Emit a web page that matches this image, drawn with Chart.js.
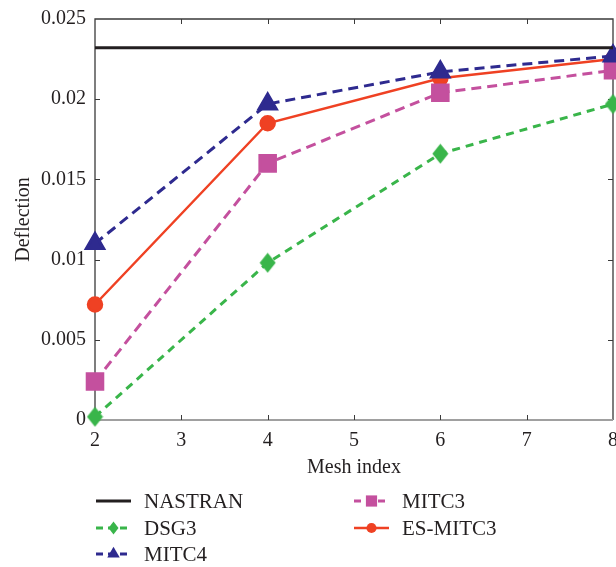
<!DOCTYPE html>
<html>
<head>
<meta charset="utf-8">
<script src="https://cdn.jsdelivr.net/npm/chart.js@4/dist/chart.umd.min.js"></script>
<style>
  html, body { margin: 0; padding: 0; background: #fff; }
  #wrap { width: 616px; height: 567px; position: relative; }
</style>
</head>
<body>
<div id="wrap"><canvas id="deflectionChart"></canvas></div>
<script>
// Data
const meshIndex = [2, 4, 6, 8];
const nastran = [0.0232, 0.0232, 0.0232, 0.0232];
const dsg3 = [0.0002, 0.0098, 0.0166, 0.0197];
const mitc4 = [0.0110, 0.0197, 0.0217, 0.0227];
const mitc3 = [0.0024, 0.0160, 0.0204, 0.0218];
const esMitc3 = [0.0072, 0.0185, 0.0213, 0.0225];

const xTicks = [2, 3, 4, 5, 6, 7, 8];
const yTicks = [0, 0.005, 0.01, 0.015, 0.02, 0.025];

const FONT = "'Liberation Serif', 'DejaVu Serif', serif";
Chart.defaults.font.family = FONT;
Chart.defaults.font.size = 20;
Chart.defaults.color = "#231f20";

// Tall diamond marker (taller than wide, like the original)
function makeDiamond(color, w, h) {
  const c = document.createElement("canvas");
  c.width = w + 1;
  c.height = h + 1;
  const g = c.getContext("2d");
  g.fillStyle = color;
  g.beginPath();
  g.moveTo((w + 1) / 2, 0.5);
  g.lineTo(w + 0.5, (h + 1) / 2);
  g.lineTo((w + 1) / 2, h + 0.5);
  g.lineTo(0.5, (h + 1) / 2);
  g.closePath();
  g.fill();
  return c;
}

function toPoints(values) {
  return values.map((v, i) => ({ x: meshIndex[i], y: v }));
}

const datasets = [
  {
    label: "NASTRAN",
    data: toPoints(nastran),
    borderColor: "#231f20",
    backgroundColor: "#231f20",
    borderWidth: 3,
    pointRadius: 0,
    legendCol: 0, legendRow: 0
  },
  {
    label: "DSG3",
    data: toPoints(dsg3),
    borderColor: "#39b54a",
    backgroundColor: "#39b54a",
    borderWidth: 3,
    borderDash: [8, 6],
    pointStyle: makeDiamond("#39b54a", 16, 20),
    legendStyle: makeDiamond("#39b54a", 10, 13),
    pointRadius: 9,
    legendCol: 0, legendRow: 1
  },
  {
    label: "MITC4",
    data: toPoints(mitc4),
    borderColor: "#2e2a8f",
    backgroundColor: "#2e2a8f",
    borderWidth: 3,
    borderDash: [10, 6],
    pointStyle: "triangle",
    pointRadius: 10,
    legendCol: 0, legendRow: 2
  },
  {
    label: "MITC3",
    data: toPoints(mitc3),
    borderColor: "#c4509e",
    backgroundColor: "#c4509e",
    borderWidth: 3,
    borderDash: [10, 6],
    pointStyle: "rect",
    pointRadius: 11,
    legendCol: 1, legendRow: 0
  },
  {
    label: "ES-MITC3",
    data: toPoints(esMitc3),
    borderColor: "#ef4123",
    backgroundColor: "#ef4123",
    borderWidth: 2.5,
    pointStyle: "circle",
    pointRadius: 7,
    legendCol: 1, legendRow: 1
  }
];

// Box round the plot, with inward ticks on all four sides
const boxPlugin = {
  id: "box",
  beforeDatasetsDraw(chart) {
    const { ctx, chartArea: a, scales } = chart;
    ctx.save();
    ctx.lineWidth = 1.3;
    ctx.strokeStyle = "#3a3a3a";
    ctx.beginPath();
    ctx.moveTo(a.left, a.bottom);
    ctx.lineTo(a.left, a.top);
    ctx.lineTo(a.right, a.top);
    ctx.lineTo(a.right, a.bottom);
    ctx.stroke();

    ctx.strokeStyle = "#a0a0a0";
    ctx.lineWidth = 2;
    ctx.beginPath();
    ctx.moveTo(a.left, a.bottom);
    ctx.lineTo(a.right, a.bottom);
    ctx.stroke();

    ctx.strokeStyle = "#3a3a3a";
    ctx.lineWidth = 1;
    const tl = 5;
    ctx.beginPath();
    xTicks.slice(1, -1).forEach(v => {
      const x = Math.round(scales.x.getPixelForValue(v)) + 0.5;
      ctx.moveTo(x, a.bottom);
      ctx.lineTo(x, a.bottom - tl);
      ctx.moveTo(x, a.top);
      ctx.lineTo(x, a.top + tl);
    });
    yTicks.slice(1, -1).forEach(v => {
      const y = Math.round(scales.y.getPixelForValue(v)) + 0.5;
      ctx.moveTo(a.left, y);
      ctx.lineTo(a.left + tl, y);
      ctx.moveTo(a.right, y);
      ctx.lineTo(a.right - tl, y);
    });
    ctx.stroke();
    ctx.restore();
  }
};

// Two-column legend under the plot
const legendPlugin = {
  id: "colLegend",
  afterDraw(chart) {
    const ctx = chart.ctx;
    const colX = [96, 354];
    const rowY = [501, 528, 554];
    const sampleW = 35;
    ctx.save();
    chart.data.datasets.forEach(ds => {
      const x0 = colX[ds.legendCol];
      const y = rowY[ds.legendRow];
      ctx.strokeStyle = ds.borderColor;
      ctx.lineWidth = ds.borderWidth;
      ctx.setLineDash(ds.borderDash ? [7, 5] : []);
      ctx.beginPath();
      ctx.moveTo(x0, y);
      ctx.lineTo(x0 + sampleW, y);
      ctx.stroke();
      ctx.setLineDash([]);
      if (ds.pointRadius > 0) {
        ctx.fillStyle = ds.backgroundColor;
        Chart.helpers.drawPoint(ctx, {
          pointStyle: ds.legendStyle || ds.pointStyle,
          radius: ds.pointRadius * 0.72,
          rotation: 0,
          borderWidth: 0
        }, x0 + sampleW / 2, y);
      }
      ctx.fillStyle = "#231f20";
      ctx.font = "21px " + FONT;
      ctx.textBaseline = "middle";
      ctx.textAlign = "left";
      ctx.fillText(ds.label, x0 + 48, y + 1);
    });
    ctx.restore();
  }
};

const ctx = document.getElementById("deflectionChart").getContext("2d");

new Chart(ctx, {
  type: "line",
  data: { datasets },
  options: {
    responsive: true,
    maintainAspectRatio: false,
    animation: false,
    clip: false,
    layout: {
      autoPadding: false,
      padding: { top: 19, right: 3, bottom: 87, left: 12 }
    },
    elements: {
      line: { tension: 0 },
      point: { borderWidth: 0, hoverRadius: 0 }
    },
    plugins: {
      legend: { display: false },
      tooltip: { enabled: false }
    },
    scales: {
      x: {
        type: "linear",
        min: 2,
        max: 8,
        afterBuildTicks(scale) {
          scale.ticks = xTicks.map(v => ({ value: v }));
        },
        afterFit(scale) {
          scale.height = 60;
          scale.paddingLeft = 0;
          scale.paddingRight = 0;
        },
        grid: { display: false, drawTicks: false },
        border: { display: false },
        ticks: { padding: 9, maxRotation: 0, autoSkip: false },
        title: { display: true, text: "Mesh index", padding: 0 }
      },
      y: {
        min: 0,
        max: 0.025,
        afterBuildTicks(scale) {
          scale.ticks = yTicks.map(v => ({ value: v }));
        },
        afterFit(scale) {
          scale.width = 83;
          scale.paddingTop = 0;
          scale.paddingBottom = 0;
        },
        grid: { display: false, drawTicks: false },
        border: { display: false },
        ticks: {
          padding: 9,
          callback: v => String(Number(v.toFixed(3)))
        },
        title: { display: true, text: "Deflection", padding: 0 }
      }
    }
  },
  plugins: [boxPlugin, legendPlugin]
});
</script>
</body>
</html>
